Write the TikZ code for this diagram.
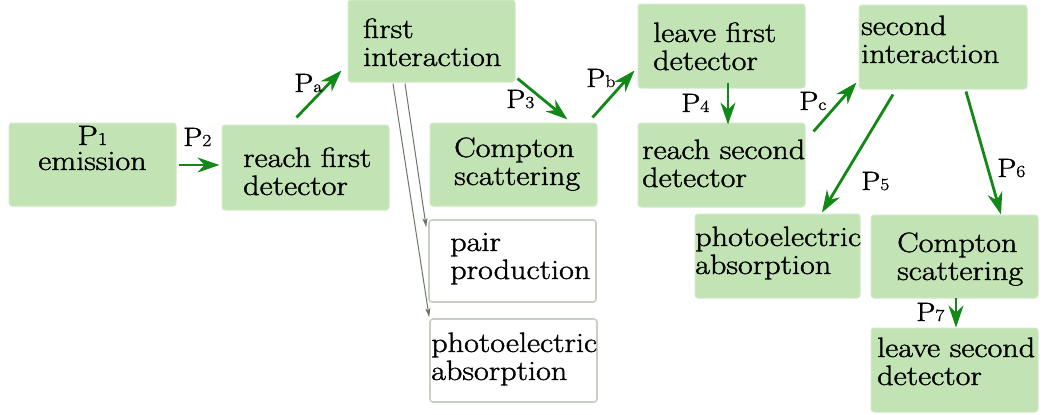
\documentclass[tikz,border=0pt]{standalone}
\usepackage{fontspec}
\setmainfont{Latin Modern Roman}[FakeBold=1.2]
\usepackage{graphicx}
\usetikzlibrary{arrows.meta,calc}
\definecolor{boxgreen}{RGB}{194,228,180}
\definecolor{boxedge}{RGB}{210,233,200}
\definecolor{wedge}{RGB}{200,208,196}
\definecolor{arrgreen}{RGB}{18,136,22}
\definecolor{arrgray}{RGB}{108,120,102}
\newcommand{\twol}[2]{\scalebox{1.15}[1]{\vtop{\baselineskip=28pt\lineskiplimit=-30pt\hbox{#1}\hbox{#2}}}}
\newcommand{\twoc}[2]{\scalebox{1.15}[1]{\vtop{\baselineskip=25pt\lineskiplimit=-30pt\halign{\hfil##\hfil\cr #1\cr #2\cr}}}}
\newcommand{\plab}[1]{\scalebox{1.15}[1]{P{\fontsize{17}{17}\selectfont #1}}}
\tikzset{
  gbox/.style={fill=boxgreen, draw=boxedge, line width=1pt, rounded corners=3pt, inner sep=0pt, minimum width=167pt},
  wbox/.style={fill=white, draw=wedge, line width=1.6pt, rounded corners=3pt, inner sep=0pt, minimum width=167pt},
  btext/.style={font=\fontsize{28}{28}\selectfont, inner sep=0pt, anchor=base west},
  lab/.style={font=\fontsize{26.5}{26}\selectfont, inner sep=0pt, anchor=base west},
  garrow/.style={draw=arrgreen, line width=2.8pt, -{Stealth[length=22pt,width=15pt,inset=7pt]}},
  grayarrow/.style={draw=arrgray, line width=1pt, -{Stealth[length=9pt,width=5pt,inset=2pt]}}
}
\begin{document}
\begin{tikzpicture}[x=1pt,y=-1pt]
\useasboundingbox (0,0) rectangle (1042,415);
% boxes
\node[gbox, minimum height=83pt] (emis) at (92.5,164.5) {};
\node[gbox, minimum height=85pt] (reach1) at (305.5,167.5) {};
\node[gbox, minimum height=82pt] (first) at (431.5,41) {};
\node[gbox, minimum height=83pt] (comp1) at (513.5,164.5) {};
\node[wbox, minimum height=82pt] (pair) at (512.5,261) {};
\node[wbox, minimum height=83pt] (photo1) at (513.5,360.5) {};
\node[gbox, minimum height=84pt] (leave1) at (721.5,46) {};
\node[gbox, minimum height=84pt] (reach2) at (721.5,165) {};
\node[gbox, minimum height=84pt, minimum width=168pt] (second) at (943,47) {};
\node[gbox, minimum height=84pt, minimum width=165pt] (photo2) at (777.5,256) {};
\node[gbox, minimum height=83pt] (comp2) at (954.5,256.5) {};
\node[gbox, minimum height=84pt] (leave2) at (954.5,370) {};
% texts
\node[btext, anchor=base] (emisT) at (92.5,145) {\twoc{P{\fontsize{18}{18}\selectfont 1}}{emission}};
\node[btext] (reach1T) at (243,167) {\twol{reach first}{detector}};
\node[btext] (firstT) at (363,38) {\twol{first}{interaction}};
\node[btext] (comp1T) at (454,157) {\twol{Compton}{scattering}};
\node[btext] (pairT) at (450,251) {\twol{pair}{production}};
\node[btext] (photo1T) at (431,352) {\twol{photoelectric}{absorption}};
\node[btext] (leave1T) at (653,42) {\twol{leave first}{detector}};
\node[btext] (reach2T) at (642,159) {\twol{reach second}{detector}};
\node[btext] (secondT) at (861,35) {\twol{second}{interaction}};
\node[btext] (photo2T) at (695,246) {\twol{photoelectric}{absorption}};
\node[btext] (comp2T) at (897,252) {\twol{Compton}{scattering}};
\node[btext] (leave2T) at (877,357) {\twol{leave second}{detector}};
% green arrows
\draw[garrow] ($(emis.east)+(2,0.5)$) -- ($(reach1.west)+(-2,-2.5)$);
\draw[garrow] ($(reach1.north west)+(75,-7)$) -- ($(first.south west)+(-6,-12)$);
\draw[garrow] ($(first.south east)+(2,-4)$) -- ($(comp1.north east)+(-30,-3)$);
\draw[garrow] ($(comp1.north east)+(-5,-5)$) -- ($(leave1.south west)+(-3,-18)$);
\draw[garrow] ($(leave1.south)+(6.5,-6)$) -- ($(reach2.north)+(6.5,2)$);
\draw[garrow] ($(reach2.north east)+(8,9)$) -- ($(second.south west)+(-2,-7)$);
\draw[garrow] ($(second.south)+(-50,5)$) -- ($(photo2.north)+(44.5,-1)$);
\draw[garrow] ($(second.south)+(23,2)$) -- ($(comp2.north)+(46.5,0)$);
\draw[garrow] ($(comp2.south)+(1.5,-1)$) -- ($(leave2.north)+(1.5,0)$);
% gray arrows
\draw[grayarrow] ($(first.south)+(-26.5,1)$) -- ($(pair.north west)+(-2,8)$);
\draw[grayarrow] ($(first.south)+(-38.5,1)$) -- ($(photo1.north west)+(0,-1)$);
% labels
\node[lab] (lP2) at (183,146) {\plab{2}};
\node[lab] (lPa) at (294,92) {\plab{a}};
\node[lab] (lP3) at (506,108) {\plab{3}};
\node[lab] (lPb) at (586,87) {\plab{b}};
\node[lab] (lP4) at (681,112) {\plab{4}};
\node[lab] (lPc) at (799,110) {\plab{c}};
\node[lab] (lP5) at (861,190) {\plab{5}};
\node[lab] (lP6) at (997,177) {\plab{6}};
\node[lab] (lP7) at (916,321) {\plab{7}};
\end{tikzpicture}
\end{document}
